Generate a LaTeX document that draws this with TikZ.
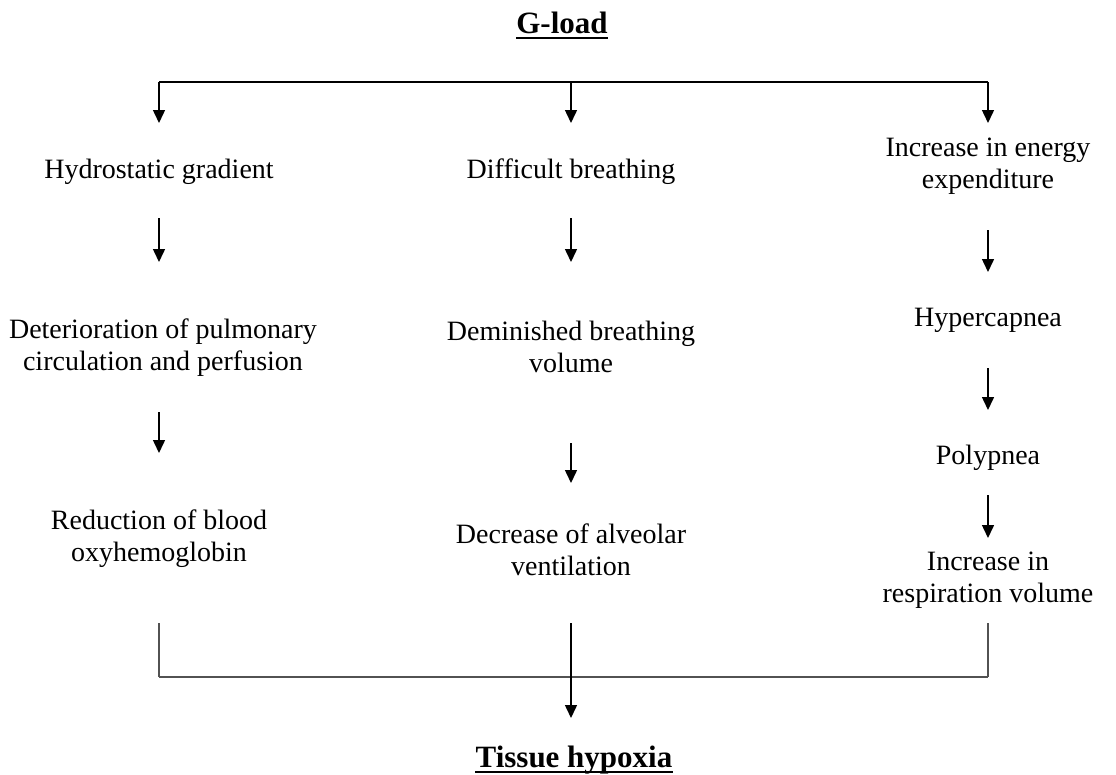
\documentclass[tikz,border=0pt]{standalone}
\usepackage{fontspec}
\setmainfont{Liberation Serif}
\usetikzlibrary{arrows.meta}
\begin{document}
\begin{tikzpicture}[x=1pt,y=-1pt,
  txt/.style={inner sep=0pt,align=center,font=\fontsize{28}{32}\selectfont},
  ttl/.style={inner sep=0pt,anchor=base,font=\fontsize{31}{34}\selectfont\bfseries},
  uln/.style={line width=1.8pt},
  arr/.style={line width=1.5pt,-{Triangle[length=13pt,width=12pt]}},
  ln/.style={line width=1.5pt},
  gl/.style={line width=2pt,draw=black!68}]
\useasboundingbox (0,0) rectangle (1116,774);
% titles
\node[ttl] (gload) at (562,33) {G-load};
\node[ttl] (tissue) at (574,767) {Tissue hypoxia};
\draw[uln] ([yshift=-5pt]gload.base west) -- ([yshift=-5pt]gload.base east);
\draw[uln] ([yshift=-5pt]tissue.base west) -- ([yshift=-5pt]tissue.base east);
% column 1
\node[txt] (h1) at (159,172) {Hydrostatic gradient};
\node[txt] (d1) at (163,347.5) {Deterioration of pulmonary\\circulation and perfusion};
\node[txt] (r1) at (159,539) {Reduction of blood\\oxyhemoglobin};
% column 2
\node[txt] (h2) at (571,172) {Difficult breathing};
\node[txt] (d2) at (571,346.5) {Deminished breathing\\volume};
\node[txt] (r2) at (571,550) {Decrease of alveolar\\ventilation};
% column 3
\node[txt] (h3) at (988,166) {Increase in energy\\expenditure};
\node[txt] (p3) at (988,320) {Hypercapnea};
\node[txt] (q3) at (988,458) {Polypnea};
\node[txt] (r3) at (988,580) {Increase in\\respiration volume};
% top branch
\coordinate (tl) at (159,82);
\coordinate (tm) at (571,82);
\coordinate (tr) at (988,82);
\draw[ln] (tl) -- (tr);
\draw[arr,shorten >=49pt] (tl) -- (h1.center);
\draw[arr,shorten >=49pt] (tm) -- (h2.center);
\draw[arr,shorten >=43pt] (tr) -- (h3.center);
% column 1 arrows
\draw[arr,shorten <=46pt,shorten >=85.5pt] (h1.center) -- (h1.center |- d1.center);
\draw[arr,shorten <=64.5pt,shorten >=86pt] (h1.center |- d1.center) -- (r1.center);
% column 2 arrows
\draw[arr,shorten <=46pt,shorten >=84.5pt] (h2.center) -- (d2.center);
\draw[arr,shorten <=96.5pt,shorten >=67pt] (d2.center) -- (r2.center);
% column 3 arrows
\draw[arr,shorten <=64pt,shorten >=48pt] (h3.center) -- (p3.center);
\draw[arr,shorten <=48pt,shorten >=48pt] (p3.center) -- (q3.center);
\draw[arr,shorten <=37pt,shorten >=42pt] (q3.center) -- (r3.center);
% bottom merge
\coordinate (b1) at (159,677);
\coordinate (b3) at (988,677);
\coordinate (tt) at (571,718);
\draw[gl,shorten <=84pt] (r1.center) -- (b1);
\draw[gl,shorten <=43pt] (r3.center) -- (b3);
\draw[gl] (b1) -- (b3);
\draw[arr,shorten <=73pt] (r2.center) -- (tt);
\end{tikzpicture}
\end{document}
